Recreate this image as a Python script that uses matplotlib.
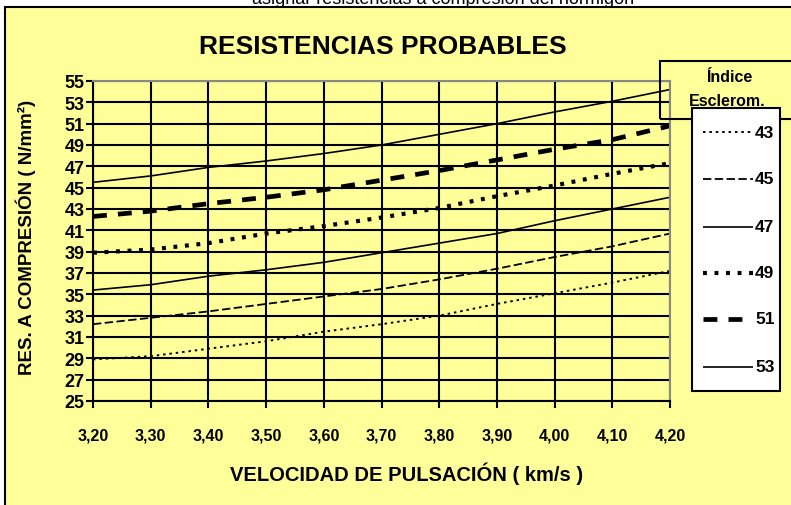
import matplotlib
matplotlib.use("Agg")
import matplotlib.pyplot as plt
from matplotlib.patches import Rectangle
from matplotlib.lines import Line2D

plt.rcParams['lines.scale_dashes'] = False
narrow = ['Liberation Sans Narrow', 'Liberation Sans', 'DejaVu Sans']

# velocidad de pulsacion (km/s)
velocidad = [3.20, 3.30, 3.40, 3.50, 3.60, 3.70, 3.80, 3.90, 4.00, 4.10, 4.20]
x_labels = ['3,20', '3,30', '3,40', '3,50', '3,60', '3,70', '3,80', '3,90', '4,00', '4,10', '4,20']

indices = ['43', '45', '47', '49', '51', '53']
res_43 = [28.9, 29.2, 29.9, 30.6, 31.5, 32.2, 33.0, 34.1, 35.1, 36.1, 37.2]
res_45 = [32.2, 32.8, 33.4, 34.1, 34.8, 35.5, 36.4, 37.4, 38.5, 39.5, 40.7]
res_47 = [35.4, 35.9, 36.7, 37.3, 38.0, 38.9, 39.8, 40.7, 41.9, 43.0, 44.1]
res_49 = [38.9, 39.2, 39.8, 40.7, 41.4, 42.2, 43.1, 44.2, 45.2, 46.3, 47.3]
res_51 = [42.3, 42.8, 43.5, 44.1, 44.8, 45.7, 46.6, 47.6, 48.6, 49.5, 50.8]
res_53 = [45.5, 46.1, 46.9, 47.5, 48.2, 49.0, 50.0, 51.0, 52.1, 53.1, 54.2]
series = [res_43, res_45, res_47, res_49, res_51, res_53]

estilos = [
    dict(lw=1.4, dashes=(1.8, 2.8)),
    dict(lw=1.3, dashes=(6, 2.5)),
    dict(lw=1.2, ls='-'),
    dict(lw=3.0, dashes=(2.8, 5.5)),
    dict(lw=3.4, dashes=(10, 8)),
    dict(lw=1.2, ls='-'),
]

fig = plt.figure(figsize=(7.91, 5.06), dpi=100)
fig.patch.set_facecolor('white')

# marco amarillo del grafico
fig.patches.append(Rectangle((5/791, -0.1), 1.2, 1 - 8/506 + 0.1, transform=fig.transFigure,
                             facecolor='#FFFF99', edgecolor='black', lw=1.5, zorder=-5))

fig.text(0.56, 1.0, 'asignar resistencias a compresión del hormigón', ha='center', va='center',
         fontsize=13, family=['Liberation Sans', 'DejaVu Sans'])

ax = fig.add_axes([93/791, 1 - 402/506, (670 - 93)/791, (402 - 82)/506])
ax.set_facecolor('#FFFF99')

for vals, st in zip(series, estilos):
    ax.plot(velocidad, vals, color='black', solid_capstyle='butt', dash_capstyle='butt', **st)

ax.set_xlim(3.2, 4.2)
ax.set_ylim(25, 55)
ax.set_xticks(velocidad)
ax.set_xticklabels(x_labels)
ax.set_yticks(range(25, 56, 2))
ax.grid(True, color='black', lw=1.5)
ax.set_axisbelow(True)
for s in ['top', 'right']:
    ax.spines[s].set_color('#888888')
    ax.spines[s].set_linewidth(1.5)
for s in ['left', 'bottom']:
    ax.spines[s].set_linewidth(1.5)
ax.tick_params(axis='y', length=5, width=1.5, pad=1, labelsize=13)
ax.tick_params(axis='x', length=5, width=1.5, pad=14, labelsize=11.5)
for lab in ax.get_xticklabels() + ax.get_yticklabels():
    lab.set_family(narrow)
    lab.set_fontweight('bold')

fig.text(383/791, 1 - 47/506, 'RESISTENCIAS PROBABLES', ha='center', va='center',
         fontsize=19, fontweight='bold', family=narrow)
fig.text(407/791, 1 - 474/506, 'VELOCIDAD DE PULSACIÓN ( km/s )', ha='center', va='center',
         fontsize=14.5, fontweight='bold', family=narrow)
fig.text(26/791, 1 - 237/506, 'RES. A COMPRESIÓN ( N/mm²)', ha='center', va='center',
         rotation=90, fontsize=13.5, fontweight='bold', family=['Liberation Sans', 'DejaVu Sans'])

# leyenda
fig.patches.append(Rectangle((660/791, 1 - 120/506), 0.3, 58/506, transform=fig.transFigure,
                             facecolor='none', edgecolor='black', lw=1.5, zorder=5))
fig.text(729/791, 1 - 77/506, 'Índice', ha='center', va='center', fontsize=11.5,
         fontweight='bold', family=narrow, zorder=6)
fig.text(727/791, 1 - 102/506, 'Esclerom.', ha='center', va='center', fontsize=11.5,
         fontweight='bold', family=narrow, zorder=6)
fig.patches.append(Rectangle((692/791, 1 - 392/506), 88/791, 283/506, transform=fig.transFigure,
                             facecolor='white', edgecolor='black', lw=1.5, zorder=5))
ley_y = [133, 180, 228, 274, 320, 368]
for idx, st, py in zip(indices, estilos, ley_y):
    yy = 1 - py/506
    fig.lines.append(Line2D([703/791, 753/791], [yy, yy], transform=fig.transFigure,
                            color='black', solid_capstyle='butt', dash_capstyle='butt',
                            zorder=6, **st))
    fig.text(755/791, yy, idx, ha='left', va='center', fontsize=12.5, fontweight='bold',
             family=narrow, zorder=7)

fig.savefig('out.png', dpi=100)
